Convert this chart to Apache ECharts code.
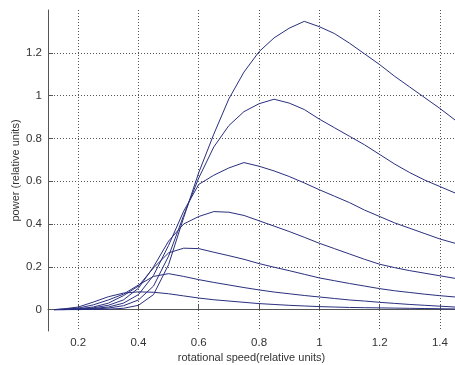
<!DOCTYPE html>
<html>
<head>
<meta charset="utf-8">
<script src="https://cdn.jsdelivr.net/npm/echarts@6/dist/echarts.min.js"></script>
<style>html,body{margin:0;padding:0;background:#fff;}#chart{width:455px;height:365px;}</style>
</head>
<body>
<div id="chart"></div>
<script>
// rotational speed (relative units)
var speed = [0.12,0.15,0.2,0.25,0.3,0.35,0.4,0.45,0.5,0.55,0.6,0.65,0.7,0.75,0.8,0.85,0.9,0.95,1.0,1.05,1.1,1.15,1.2,1.25,1.3,1.35,1.4,1.45];
// power (relative units), one curve per wind speed
var power1 = [0,0,0,0.001,0.002,0.006,0.02,0.07,0.21,0.43,0.64,0.82,0.985,1.11,1.205,1.27,1.315,1.347,1.322,1.29,1.245,1.195,1.145,1.09,1.04,0.99,0.94,0.886];
var power2 = [0,0,0.001,0.003,0.007,0.018,0.045,0.11,0.25,0.44,0.615,0.76,0.86,0.925,0.962,0.983,0.965,0.935,0.89,0.85,0.81,0.77,0.725,0.68,0.64,0.605,0.575,0.545];
var power3 = [0,0,0.002,0.005,0.012,0.03,0.07,0.16,0.3,0.46,0.585,0.628,0.662,0.687,0.67,0.648,0.622,0.592,0.56,0.53,0.5,0.465,0.435,0.405,0.38,0.355,0.33,0.31];
var power4 = [0,0.001,0.003,0.008,0.02,0.045,0.1,0.2,0.32,0.4,0.435,0.458,0.455,0.44,0.415,0.39,0.365,0.338,0.31,0.285,0.26,0.235,0.212,0.196,0.182,0.17,0.158,0.146];
var power5 = [0,0.001,0.004,0.012,0.03,0.065,0.11,0.195,0.265,0.287,0.285,0.268,0.252,0.235,0.215,0.198,0.182,0.165,0.148,0.135,0.122,0.11,0.098,0.088,0.08,0.072,0.065,0.059];
var power6 = [0,0.002,0.007,0.022,0.045,0.072,0.115,0.155,0.168,0.155,0.14,0.127,0.115,0.103,0.092,0.082,0.074,0.066,0.059,0.052,0.045,0.04,0.034,0.029,0.024,0.02,0.016,0.012];
var power7 = [0,0.003,0.012,0.035,0.06,0.077,0.083,0.081,0.074,0.064,0.054,0.046,0.04,0.034,0.028,0.024,0.02,0.017,0.014,0.012,0.01,0.009,0.008,0.007,0.006,0.005,0.004,0.003];
var curves = [power1,power2,power3,power4,power5,power6,power7];
var xTicks = [0.2,0.4,0.6,0.8,1,1.2,1.4];
var yTicks = [0,0.2,0.4,0.6,0.8,1,1.2];

var font = "'Liberation Sans', Arial, sans-serif";
var chart = echarts.init(document.getElementById('chart'), null, {renderer:'canvas'});
var series = curves.map(function(vals){
  return {
    type:'line', showSymbol:false, smooth:false, animation:false,
    lineStyle:{color:'#2a2f7e', width:1},
    data: speed.map(function(x,i){ return [x, vals[i]]; })
  };
});
var gridDots = {type:[1,2], color:'#555', width:1};
chart.setOption({
  animation:false,
  backgroundColor:'#fff',
  grid:{left:48, right:0, top:10, bottom:34, containLabel:false, outerBoundsMode:'none'},
  xAxis:{
    type:'value', min:0.1, max:1.45,
    name:'rotational speed(relative units)', nameLocation:'middle', nameGap:21, nameMoveOverlap:false,
    nameTextStyle:{fontFamily:font, fontSize:11, color:'#333'},
    axisLine:{show:true, lineStyle:{color:'#555', width:1}},
    axisTick:{show:true, inside:true, length:5, customValues:xTicks, lineStyle:{color:'#555'}},
    axisLabel:{customValues:xTicks, margin:6, fontFamily:font, fontSize:11.5, color:'#333',
      formatter:function(v){return String(+v.toFixed(1));}},
    splitLine:{show:true, lineStyle:gridDots}
  },
  yAxis:{
    type:'value', min:-0.1, max:1.4,
    name:'power (relative units)', nameLocation:'middle', nameGap:27, nameRotate:90, nameMoveOverlap:false,
    nameTextStyle:{fontFamily:font, fontSize:11, color:'#333'},
    axisLine:{show:true, lineStyle:{color:'#555', width:1}},
    axisTick:{show:true, inside:true, length:5, customValues:yTicks, lineStyle:{color:'#555'}},
    axisLabel:{customValues:yTicks, margin:6, fontFamily:font, fontSize:11.5, color:'#333',
      formatter:function(v){return String(+v.toFixed(1));}},
    splitLine:{show:true, lineStyle:gridDots}
  },
  series:series
});
</script>
</body>
</html>
